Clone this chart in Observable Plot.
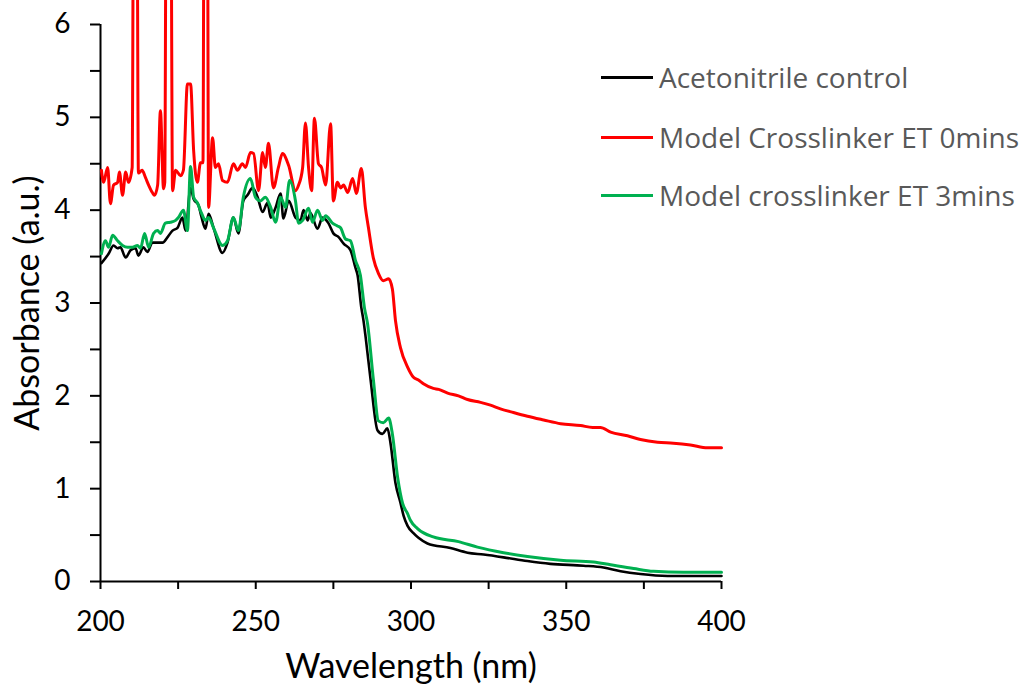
<!DOCTYPE html>
<html>
<head>
<meta charset="utf-8">
<script src="https://cdn.jsdelivr.net/npm/d3@7"></script>
<script src="https://cdn.jsdelivr.net/npm/@observablehq/plot@0.6"></script>
<style>
  html, body { margin: 0; padding: 0; background: #fff; }
  #wrap { position: relative; width: 1026px; height: 693px; overflow: hidden; }
  #legend { position: absolute; left: 601px; top: 0; font-family: "Open Sans", Lato, sans-serif; font-size: 28px; color: #595959; }
  .item { position: absolute; left: 0; display: flex; align-items: center; white-space: nowrap; height: 40px; }
  .swatch { width: 52px; height: 3px; margin-right: 6px; }
</style>
</head>
<body>
<div id="wrap"></div>
<script>
// Series names and colours
const seriesNames = ["Acetonitrile control", "Model Crosslinker ET 0mins", "Model crosslinker ET 3mins"];
const seriesColors = ["#000000", "#FF0000", "#00B050"];

// Acetonitrile control
const wlBlack = [200.3,202.6,204.2,205.5,206.4,208.1,209.7,211.3,212.2,213.8,215.1,216.7,218.4,220.0,221.6,223.2,224.8,226.4,227.4,229.0,230.0,231.6,232.5,233.8,234.8,236.4,239.3,240.9,242.8,244.4,246.0,247.3,249.0,250.6,252.2,253.8,254.8,256.4,258.0,258.9,260.6,262.8,264.4,265.4,266.7,267.6,269.9,271.5,273.4,275.0,276.7,278.3,280.5,282.1,282.8,284.0,284.7,285.4,287.0,289.2,290.8,292.4,293.4,295.0,296.6,297.6,298.9,300.8,302.4,305.3,312.7,318.2,323.4,329.8,337.5,344.9,355.6,362.0,367.5,373.9,382.6,400];
const absBlack = [3.43,3.53,3.62,3.59,3.60,3.49,3.57,3.59,3.51,3.60,3.55,3.65,3.65,3.65,3.71,3.78,3.81,3.92,3.78,4.24,4.12,4.05,3.93,3.80,3.96,3.81,3.54,3.65,3.92,3.75,4.10,4.16,4.24,4.14,3.98,4.08,3.92,4.03,4.18,3.91,4.10,3.92,3.89,4.00,3.89,3.97,3.80,3.92,3.86,3.75,3.71,3.64,3.57,3.38,3.30,2.95,2.81,2.63,2.17,1.63,1.59,1.65,1.49,1.06,0.85,0.71,0.60,0.52,0.47,0.41,0.36,0.31,0.29,0.26,0.22,0.19,0.17,0.15,0.11,0.08,0.06,0.06];

// Model Crosslinker ET 0mins
const wlRed = [200.3,201.0,202.3,203.2,204.2,205.5,206.1,207.1,208.1,209.0,210.2,210.7,211.7,212.2,213.4,214.5,215.5,216.7,217.4,218.4,219.3,220.3,220.7,221.2,222.6,223.2,224.2,225.8,226.7,228.0,229.0,230.0,231.2,232.2,233.0,233.4,234.4,234.8,236.1,237.0,238.0,239.3,240.9,242.8,244.1,245.7,246.7,248.3,249.3,250.9,252.2,253.1,254.1,255.7,257.3,258.6,260.6,262.8,263.8,265.1,266.0,267.0,268.0,268.9,270.2,271.2,272.5,274.1,275.0,276.3,277.3,278.3,279.6,281.2,282.4,284.0,285.3,286.3,287.9,289.5,291.1,292.8,294.0,295.0,296.6,298.9,300.8,302.4,304.0,307.2,308.9,311.8,315.3,318.2,322.4,325.6,328.8,333.0,337.5,342.7,348.2,354.6,358.5,361.0,364.3,369.7,373.9,379.4,384.5,390.0,395.5,400];
const absRed = [4.43,4.30,4.46,4.07,4.27,4.30,4.41,4.16,4.41,4.30,4.46,8,8,4.40,4.43,4.35,4.27,4.19,4.16,4.27,5.07,4.23,4.30,8,8,4.21,4.43,4.37,4.43,5.36,5.36,4.64,4.30,4.51,4.51,8,8,4.03,4.78,4.46,4.50,4.32,4.30,4.50,4.43,4.50,4.46,4.62,4.61,4.21,4.62,4.46,4.72,4.24,4.46,4.61,4.48,4.21,4.27,4.46,4.94,4.46,4.21,4.99,4.50,4.46,4.27,4.93,4.10,4.30,4.24,4.27,4.19,4.34,4.18,4.45,4.03,3.81,3.48,3.32,3.24,3.26,3.15,2.81,2.52,2.31,2.20,2.17,2.13,2.08,2.07,2.03,2.00,1.96,1.93,1.90,1.86,1.82,1.78,1.74,1.70,1.68,1.66,1.66,1.61,1.57,1.53,1.50,1.49,1.47,1.44,1.44];

// Model crosslinker ET 3mins
const wlGreen = [200.3,201.6,202.6,203.9,205.5,207.1,208.7,210.3,211.9,212.9,214.2,215.5,217.1,218.4,219.3,220.9,222.5,224.2,225.1,226.7,228.0,229.0,230.0,231.2,232.5,233.8,234.8,236.4,239.3,240.9,242.8,244.4,246.0,248.3,249.9,251.5,253.1,254.8,256.4,258.0,259.6,260.9,262.8,263.8,265.1,267.0,268.3,269.9,271.5,272.5,274.7,276.3,277.3,278.9,280.5,282.1,283.7,285.0,286.0,287.9,289.5,291.1,292.8,294.0,295.7,297.3,298.9,299.8,302.1,307.2,315.3,321.4,329.8,337.5,348.2,358.8,364.3,371.7,378.1,387.8,400];
const absGreen = [3.53,3.67,3.60,3.73,3.67,3.62,3.60,3.60,3.62,3.59,3.75,3.60,3.75,3.78,3.75,3.86,3.87,3.89,3.92,4.00,3.78,4.47,4.14,4.08,3.97,3.89,3.92,3.81,3.62,3.67,3.92,3.78,4.14,4.34,4.14,4.10,4.14,4.03,3.87,4.14,4.03,4.32,4.10,3.86,3.89,4.02,3.87,4.00,3.89,3.94,3.86,3.83,3.81,3.69,3.67,3.46,3.30,2.95,2.78,2.17,1.73,1.71,1.76,1.59,1.12,0.84,0.73,0.66,0.57,0.48,0.43,0.37,0.31,0.27,0.23,0.21,0.18,0.14,0.11,0.10,0.10];

// Axis ticks
const xTicks = [200,225,250,275,300,325,350,375,400];
const xLabels = [200,250,300,350,400];
const yTicks = [0,0.5,1,1.5,2,2.5,3,3.5,4,4.5,5,5.5,6];
const yLabels = [0,1,2,3,4,5,6];

const toRows = (wl, ab, s) => wl.map((w, i) => ({wl: w, abs: ab[i], series: s}));
const rowsBlack = toRows(wlBlack, absBlack, seriesNames[0]);
const rowsRed = toRows(wlRed, absRed, seriesNames[1]);
const rowsGreen = toRows(wlGreen, absGreen, seriesNames[2]);

const chart = Plot.plot({
  width: 1026,
  height: 693,
  marginLeft: 100,
  marginRight: 305,
  marginTop: 24,
  marginBottom: 112,
  style: {fontFamily: "Lato, 'Open Sans', sans-serif", color: "#000", background: "#fff", overflow: "hidden"},
  x: {domain: [200, 400]},
  y: {domain: [0, 6]},
  color: {domain: seriesNames, range: seriesColors},
  marks: [
    Plot.axisX({ticks: xTicks, tickSize: 8, tickPadding: 22, strokeWidth: 2, fontSize: 28,
      tickFormat: d => xLabels.includes(d) ? String(d) : "",
      label: "Wavelength (nm)", labelAnchor: "center", labelArrow: "none", labelOffset: 96}),
    Plot.axisY({ticks: yTicks, tickSize: 10, tickPadding: 20, strokeWidth: 2, fontSize: 28,
      tickFormat: d => yLabels.includes(d) ? String(d) : "",
      label: "Absorbance (a.u.)", labelAnchor: "center", labelArrow: "none", labelOffset: 86}),
    Plot.ruleX([200], {stroke: "#000", strokeWidth: 2}),
    Plot.ruleY([0], {stroke: "#000", strokeWidth: 2}),
    Plot.line(rowsBlack, {x: "wl", y: "abs", stroke: "series", strokeWidth: 2.6, curve: "monotone-x"}),
    Plot.line(rowsRed, {x: "wl", y: "abs", stroke: "series", strokeWidth: 3, curve: "monotone-x"}),
    Plot.line(rowsGreen, {x: "wl", y: "abs", stroke: "series", strokeWidth: 3, curve: "monotone-x"})
  ]
});
// axis label font size
chart.querySelectorAll("g[aria-label='x-axis label'] text, g[aria-label='y-axis label'] text").forEach(t => t.setAttribute("font-size", "34"));

const wrap = document.getElementById("wrap");
wrap.appendChild(chart);

const legend = document.createElement("div");
legend.id = "legend";
const legendTops = [57, 117, 175];
seriesNames.forEach((name, i) => {
  const item = document.createElement("div");
  item.className = "item";
  item.style.top = legendTops[i] + "px";
  const sw = document.createElement("div");
  sw.className = "swatch";
  sw.style.background = seriesColors[i];
  const tx = document.createElement("span");
  tx.textContent = name;
  item.appendChild(sw);
  item.appendChild(tx);
  legend.appendChild(item);
});
wrap.appendChild(legend);
</script>
</body>
</html>
